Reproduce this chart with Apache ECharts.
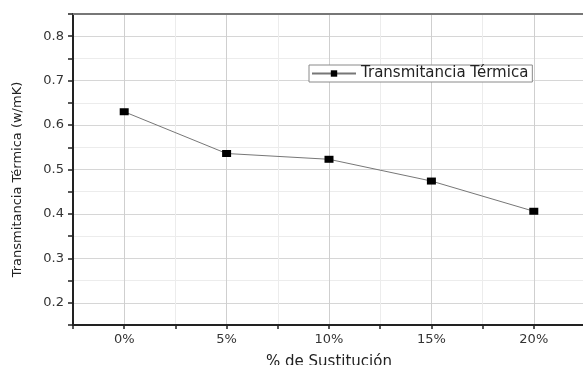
<!DOCTYPE html>
<html>
<head>
<meta charset="utf-8">
<script src="https://cdn.jsdelivr.net/npm/echarts@6/dist/echarts.min.js"></script>
<style>
  html, body { margin: 0; padding: 0; background: #fff; }
  #chart { width: 583px; height: 365px; }
</style>
</head>
<body>
<div id="chart"></div>
<script>
// % de sustitución (x) y transmitancia térmica (y)
const sustitucion = [0, 5, 10, 15, 20];
const transmitancia = [0.630, 0.536, 0.523, 0.474, 0.406];
const serieNombre = 'Transmitancia Térmica';

const font = 'DejaVu Sans, Arial, sans-serif';
const chart = echarts.init(document.getElementById('chart'));

const option = {
  backgroundColor: '#fff',
  animation: false,
  grid: { left: 73, top: 14, right: -2, bottom: 40, containLabel: false, outerBoundsMode: 'none' },
  legend: {
    left: 309,
    top: 65,
    padding: [1, 4, 1, 2],
    itemWidth: 44,
    itemHeight: 8,
    itemGap: 6,
    borderColor: '#8a8a8a',
    borderWidth: 1,
    backgroundColor: '#fff',
    textStyle: { fontFamily: font, fontSize: 15, color: '#222' },
    data: [serieNombre],
  },
  xAxis: [
    {
      type: 'value',
      min: -2.5,
      max: 22.5,
      interval: 2.5,
      name: '% de Sustitución',
      nameLocation: 'middle',
      nameGap: 30,
      nameTextStyle: { fontFamily: font, fontSize: 15, color: '#222' },
      axisLine: { show: true, onZero: false, lineStyle: { color: '#222', width: 2 } },
      axisTick: { show: true, length: 4, lineStyle: { color: '#222', width: 1.5 } },
      axisLabel: {
        margin: 8,
        fontFamily: font,
        fontSize: 13,
        color: '#333',
        formatter: (v) => (Math.abs(v % 5) < 1e-6 && v >= 0 ? v + '%' : ''),
      },
      splitLine: { show: true, lineStyle: { color: ['#ececec', '#cfcfcf'], width: 1 } },
    },
    {
      type: 'value',
      position: 'top',
      min: -2.5,
      max: 22.5,
      axisLine: { show: true, onZero: false, lineStyle: { color: '#777', width: 2 } },
      axisTick: { show: false },
      axisLabel: { show: false },
      splitLine: { show: false },
    },
  ],
  yAxis: {
    type: 'value',
    min: 0.15,
    max: 0.85,
    interval: 0.05,
    name: 'Transmitancia Térmica (w/mK)',
    nameLocation: 'middle',
    nameGap: 49,
    nameTextStyle: { fontFamily: font, fontSize: 13, color: '#222', padding: [0, 20, 0, 0] },
    axisLine: { show: true, onZero: false, lineStyle: { color: '#222', width: 2 } },
    axisTick: { show: true, length: 5, lineStyle: { color: '#222', width: 1.5 } },
    axisLabel: {
      margin: 9,
      fontFamily: font,
      fontSize: 13,
      color: '#333',
      formatter: (v) => (Math.round(v * 100) % 10 === 0 ? v.toFixed(1) : ''),
    },
    splitLine: { show: true, lineStyle: { color: ['#ececec', '#d6d6d6'], width: 1 } },
  },
  series: [
    {
      name: serieNombre,
      type: 'line',
      data: sustitucion.map((x, i) => [x, transmitancia[i]]),
      symbol: 'rect',
      symbolSize: [9, 7],
      itemStyle: { color: '#000' },
      lineStyle: { color: '#777', width: 1 },
    },
  ],
};

chart.setOption(option);
</script>
</body>
</html>
